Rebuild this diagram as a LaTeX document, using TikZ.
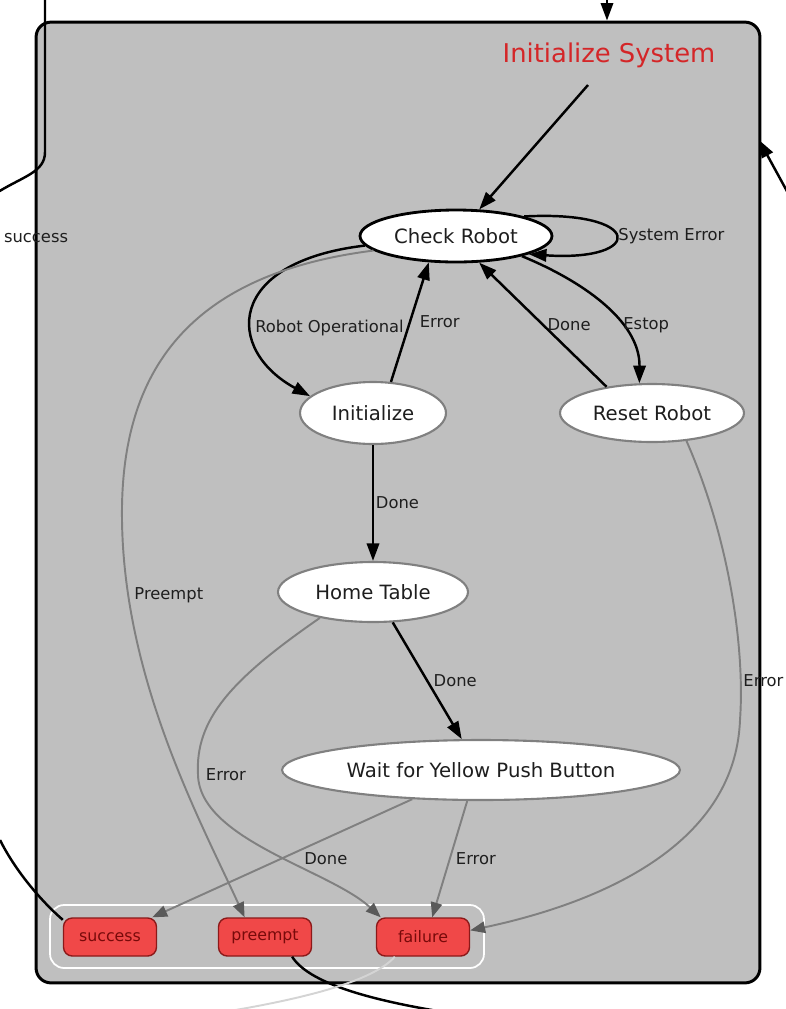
\documentclass[tikz,border=0pt]{standalone}
\usepackage{fontspec}
\setmainfont{DejaVu Sans}
\usetikzlibrary{shapes.geometric,positioning,calc,arrows.meta}

\definecolor{clustergray}{RGB}{191,191,191}
\definecolor{edgegray}{RGB}{128,128,128}
\definecolor{tipgray}{RGB}{90,90,90}
\definecolor{lightedge}{RGB}{212,212,212}
\definecolor{titlered}{RGB}{212,38,40}
\definecolor{outred}{RGB}{240,72,72}
\definecolor{outborder}{RGB}{140,25,25}
\definecolor{outtext}{RGB}{120,10,10}
\definecolor{textdark}{RGB}{30,30,30}

\begin{document}
\begin{tikzpicture}[
    x=0.02cm, y=-0.02cm,
    cluster/.style={draw, fill=clustergray, line width=1.7pt, rounded corners=8.5pt, minimum width=14.48cm, minimum height=19.22cm},
    state/.style={ellipse, draw=edgegray, line width=1.2pt, fill=white, inner sep=0pt, text=textdark, font=\fontsize{11.2}{13}\selectfont},
    outcome/.style={draw=outborder, fill=outred, rounded corners=5pt, line width=0.8pt, minimum width=1.86cm, minimum height=0.76cm, inner sep=0pt, text=outtext, font=\fontsize{9}{11}\selectfont},
    lbl/.style={inner sep=1pt, text=textdark, font=\fontsize{9.3}{11}\selectfont},
    arr/.style={line width=1.4pt, -{Triangle[length=10pt, width=7pt]}},
    garr/.style={line width=1.1pt, draw=edgegray, -{Triangle[length=8.5pt, width=6.5pt, color=tipgray]}},
    ext/.style={line width=1.4pt}
]
    \useasboundingbox (0,0) rectangle (786,1009);
    \clip (0,0) rectangle (786,1009);

    % --- Container ---
    \node[cluster] (sys) at (398,502.5) {};
    \node[text=titlered, font=\fontsize{14.7}{17}\selectfont] (title) at (609,55) {Initialize System};
    \coordinate (entry) at (588,85);

    % --- States ---
    \node[state, draw=black, line width=1.6pt, minimum width=3.84cm, minimum height=1.04cm] (cr) at (456,236) {Check Robot};
    \node[state, minimum width=2.92cm, minimum height=1.24cm] (init) at (373,413) {Initialize};
    \node[state, minimum width=3.68cm, minimum height=1.16cm] (reset) at (652,413) {Reset Robot};
    \node[state, minimum width=3.8cm, minimum height=1.2cm] (home) at (373,592) {Home Table};
    \node[state, minimum width=7.96cm, minimum height=1.2cm] (wait) at (481,770) {Wait for Yellow Push Button};

    % --- Outcomes ---
    \node[draw=white, line width=1pt, rounded corners=8pt, minimum width=8.68cm, minimum height=1.26cm] (outs) at (267,936.5) {};
    \node[outcome] (suc) at (110,937) {success};
    \node[outcome] (pre) at (265,937) {preempt};
    \node[outcome] (fail) at (423,937) {failure};

    % --- Transitions (taken) ---
    \draw[arr] (entry) -- (cr);
    \draw[arr] (cr.16) .. controls (645,210) and (645,262) .. (cr.346) node[lbl, pos=0.5, anchor=west] {System Error};
    \draw[arr] (cr.186) .. controls (225,262) and (225,350) .. (init.165) node[lbl, pos=0.6, anchor=west] {Robot Operational};
    \draw[arr] (init.60) -- (cr.224) node[lbl, midway, right=4pt] {Error};
    \draw[arr] (reset.150) -- (cr.311) node[lbl, midway, right=1pt] {Done};
    \draw[arr] (cr.343) .. controls (580,280) and (640,320) .. (reset.113) node[lbl, pos=0.65, right] {Estop};
    \draw[arr] (init) -- (home) node[lbl, midway, right] {Done};
    \draw[arr] (home.303) -- (wait.122) node[lbl, midway, right=2pt] {Done};

    % --- Transitions to outcomes ---
    \draw[garr] (cr.190) .. controls (180,275) and (120,380) .. (122,520)
        .. controls (124,680) and (200,820) .. (pre.136) node[lbl, pos=0.16, right=2pt] {Preempt};
    \draw[garr] (home.206) .. controls (230,680) and (195,720) .. (198,775) node[lbl, right=3pt] {Error}
        .. controls (200,840) and (330,870) .. (fail.155);
    \draw[garr] (reset.321) .. controls (730,540) and (745,650) .. (740,720) node[lbl, pos=0.83, right] {Error}
        .. controls (735,850) and (590,905) .. (fail.8);
    \draw[garr] (wait.203) -- (suc.25) node[lbl, midway, right=11pt] {Done};
    \draw[garr] (wait.246) -- (fail.65) node[lbl, midway, right=2pt] {Error};

    % --- Outside the container ---
    \coordinate (topin) at (607,-10);
    \draw[arr] (topin) -- (topin |- sys.north);
    \coordinate (rightin) at (800,215);
    \coordinate (righttip) at (759,140);
    \draw[arr] (rightin) -- (righttip);
    \coordinate (leftin) at (45,-10);
    \coordinate (leftout) at (-2,192);
    \draw[ext] (leftin) -- (45,152) .. controls (45,172) and (24,176) .. (leftout);
    \node[lbl, anchor=west] (sucname) at (2,238) {success};
    \coordinate (sucout) at (0,840);
    \draw[ext] (suc.160) .. controls (40,900) and (15,870) .. (sucout);
    \coordinate (preout) at (500,1020);
    \draw[ext] (pre.324) .. controls (310,985) and (380,1005) .. (preout);
    \coordinate (failout) at (170,1020);
    \draw[line width=1.1pt, draw=lightedge] (fail.215) .. controls (370,985) and (280,1005) .. (failout);
\end{tikzpicture}
\end{document}
